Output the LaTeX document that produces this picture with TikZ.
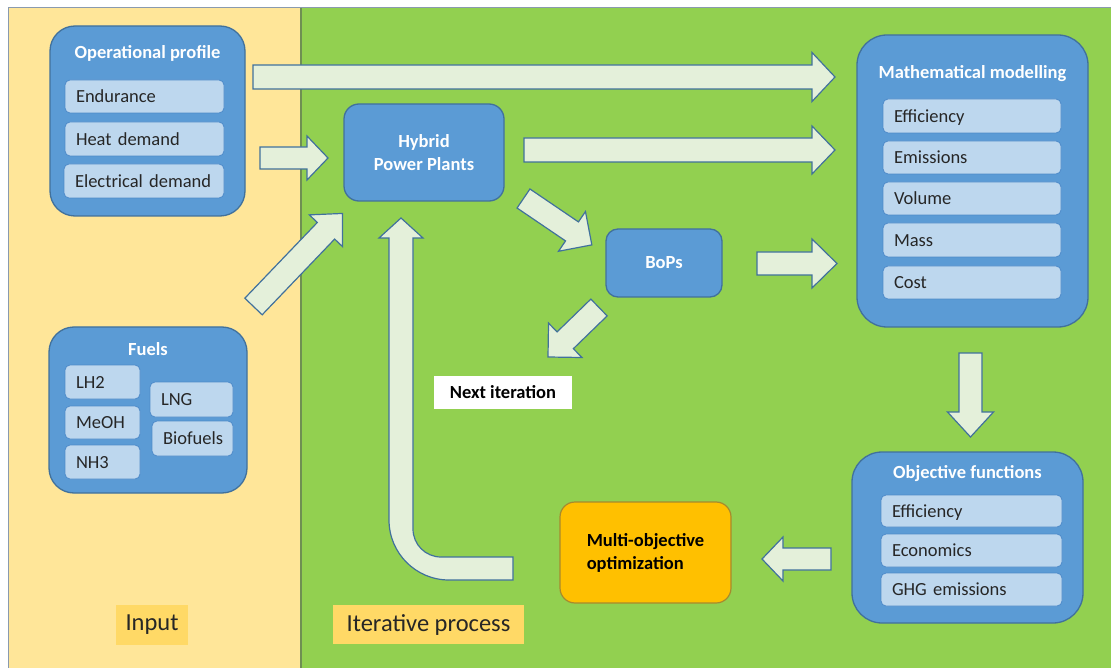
\documentclass[tikz,border=0pt]{standalone}
\usepackage{fontspec}
\setmainfont{Carlito}
\usetikzlibrary{calc}
\definecolor{yel}{HTML}{FFE699}
\definecolor{grn}{HTML}{92D050}
\definecolor{blu}{HTML}{5B9BD5}
\definecolor{bdr}{HTML}{41719C}
\definecolor{subf}{HTML}{BDD7EE}
\definecolor{subd}{HTML}{4F8BC9}
\definecolor{arrf}{HTML}{E4F0DA}
\definecolor{arrd}{HTML}{41719C}
\definecolor{org}{HTML}{FFC000}
\definecolor{orgd}{HTML}{A68A2E}
\definecolor{lab}{HTML}{FFD966}
\definecolor{txt}{HTML}{262626}
\definecolor{frm}{HTML}{8A9AAE}
\definecolor{divd}{HTML}{6F8F52}

\newcommand\blockarrow[5]{%
  \pgfpointanchor{#1}{center}\pgfgetlastxy{\BAax}{\BAay}%
  \pgfpointanchor{#2}{center}\pgfgetlastxy{\BAbx}{\BAby}%
  \pgfmathsetmacro\BAang{atan2(\BAby-\BAay,\BAbx-\BAax)}%
  \pgfmathsetmacro\BAlen{veclen(\BAbx-\BAax,\BAby-\BAay)}%
  \pgfmathsetmacro\BAneck{\BAlen-#5}%
  \draw[barrow, shift={(#1)}, rotate=\BAang]
    (0,#3) -- (\BAneck,#3) -- (\BAneck,#4) -- (\BAlen,0) -- (\BAneck,-#4)
    -- (\BAneck,-#3) -- (0,-#3) -- cycle;
}
\newcommand\subbox[6]{%
  \pgfmathsetmacro\SBw{#4-#2-22}\pgfmathsetmacro\SBh{#5-#3}%
  \pgfmathsetmacro\SBx{(#2+#4)/2}\pgfmathsetmacro\SBy{(#3+#5)/2}%
  \node[subbx, text width=\SBw pt, minimum height=\SBh pt] (#1) at (\SBx,\SBy) {#6};
}

\begin{document}
\begin{tikzpicture}[x=1pt,y=-1pt,
  bluebox/.style={draw=bdr, fill=blu, line width=1.3pt},
  subbx/.style={draw=subd, fill=subf, rounded corners=5pt, line width=0.8pt,
    inner xsep=11pt, inner ysep=0pt, align=left, text=txt,
    text height=14.5pt, text depth=2pt, font=\fontsize{18.5}{22}\selectfont},
  ttl/.style={text=white, font=\fontsize{18.5}{22}\selectfont\bfseries},
  barrow/.style={draw=arrd, fill=arrf, line width=1.2pt, line join=miter},
  labelbox/.style={fill=lab, text=txt, font=\fontsize{24.5}{28}\selectfont, inner sep=0pt}
]
\useasboundingbox (0,0) rectangle (1111,668);
\fill[white] (0,0) rectangle (1111,668);
\fill[yel] (8,8) rectangle (301,668);
\fill[grn] (301,8) rectangle (1111,668);
\draw[frm, line width=1pt] (8,668) -- (8,8) -- (1111,8);
\draw[divd, line width=1.2pt] (301,8) -- (301,668);

% ---- Operational profile
\node[bluebox, rounded corners=25pt, minimum width=195, minimum height=190] (op) at (147.5,121) {};
\node[ttl] (opt) at (147.5,53) {Operational profile};
\subbox{endu}{65}{80}{224}{113}{Endurance}
\subbox{heat}{65}{122}{224}{156}{Heat demand}
\subbox{elec}{64}{164}{224}{198}{Electrical demand}

% ---- Fuels
\node[bluebox, rounded corners=25pt, minimum width=198, minimum height=166] (fu) at (148,410) {};
\node[ttl] (fut) at (148,349) {Fuels};
\subbox{lh}{65}{365}{140}{399}{LH2}
\subbox{meoh}{65}{406}{140}{439}{MeOH}
\subbox{nh}{65}{445}{140}{479}{NH3}
\subbox{lng}{150}{382}{233}{417}{LNG}
\subbox{bio}{152}{421}{233}{456}{Biofuels}

\node[labelbox, minimum width=72, minimum height=40] (inp) at (152,625) {Input};
\node[labelbox, minimum width=191, minimum height=39] (itp) at (428.5,624.5) {Iterative process};

% ---- Hybrid power plants
\node[bluebox, rounded corners=15pt, minimum width=160, minimum height=97, ttl, align=center]
  (hpp) at (424,152.5) {Hybrid\\[1pt]Power Plants};
\node[bluebox, rounded corners=12pt, minimum width=116, minimum height=68, ttl]
  (bop) at (664,263) {BoPs};
\node[fill=white, minimum width=138, minimum height=33, inner sep=0pt, text=black,
  font=\fontsize{18.5}{22}\selectfont\bfseries] (nxt) at (503,392.5) {Next iteration};
\node[draw=orgd, fill=org, line width=1.2pt, rounded corners=15pt, minimum width=171, minimum height=101,
  align=left, text=black, font=\fontsize{18.5}{23}\selectfont\bfseries]
  (moo) at (645.5,552.5) {Multi-objective\\optimization};

% ---- Mathematical modelling
\node[bluebox, rounded corners=30pt, minimum width=231, minimum height=292] (mm) at (972.5,181) {};
\node[ttl] (mmt) at (972.5,74) {Mathematical modelling};
\subbox{mef}{883}{99}{1061}{133}{Efficiency}
\subbox{mem}{883}{141}{1061}{174}{Emissions}
\subbox{mvo}{883}{182}{1061}{215}{Volume}
\subbox{mma}{883}{223}{1061}{257}{Mass}
\subbox{mco}{883}{266}{1061}{299}{Cost}

% ---- Objective functions
\node[bluebox, rounded corners=30pt, minimum width=231, minimum height=171] (of) at (967.5,537.5) {};
\node[ttl] (oft) at (967.5,474) {Objective functions};
\subbox{oef}{881}{495}{1062}{527}{Efficiency}
\subbox{oec}{881}{534}{1062}{567}{Economics}
\subbox{ogh}{881}{573}{1062}{606}{GHG emissions}

% ---- connector end points
\coordinate (a1s) at (253,77);    \coordinate (a1e) at (835,77);
\coordinate (a2s) at (260,158);   \coordinate (a2e) at (328,158);
\coordinate (a3s) at (253.5,306.5); \coordinate (a3e) at (343,213);
\coordinate (a4s) at (524,150);   \coordinate (a4e) at (835,150);
\coordinate (a5s) at (523.5,198.5); \coordinate (a5e) at (592,245);
\coordinate (a6s) at (757,263.5); \coordinate (a6e) at (837,263.5);
\coordinate (a7s) at (599,307.5); \coordinate (a7e) at (548,357);
\coordinate (a8s) at (970.5,353); \coordinate (a8e) at (970.5,437);
\coordinate (a9s) at (831,559);   \coordinate (a9e) at (762,559);

\blockarrow{a1s}{a1e}{12}{24.5}{23}
\blockarrow{a2s}{a2e}{11}{22}{21}
\blockarrow{a3s}{a3e}{12}{23}{24}
\blockarrow{a4s}{a4e}{12}{24}{23}
\blockarrow{a5s}{a5e}{11.5}{24}{24}
\blockarrow{a6s}{a6e}{11.5}{24.5}{25}
\blockarrow{a7s}{a7e}{11.7}{24}{24}
\blockarrow{a8s}{a8e}{11.5}{23}{25}
\blockarrow{a9s}{a9e}{11}{22}{21}

% ---- L-shaped return arrow (optimization -> hybrid power plants)
\coordinate (lrs) at (513,568.5);
\coordinate (lre) at (401,218);
\draw[barrow] (513,580) -- (449,580) arc[start angle=90, end angle=180, radius=60]
  -- (389,238) -- (379,238) -- (lre) -- (423,238) -- (413,238) -- (413,529)
  arc[start angle=180, end angle=90, radius=28] -- (513,557) -- cycle;
\end{tikzpicture}
\end{document}
